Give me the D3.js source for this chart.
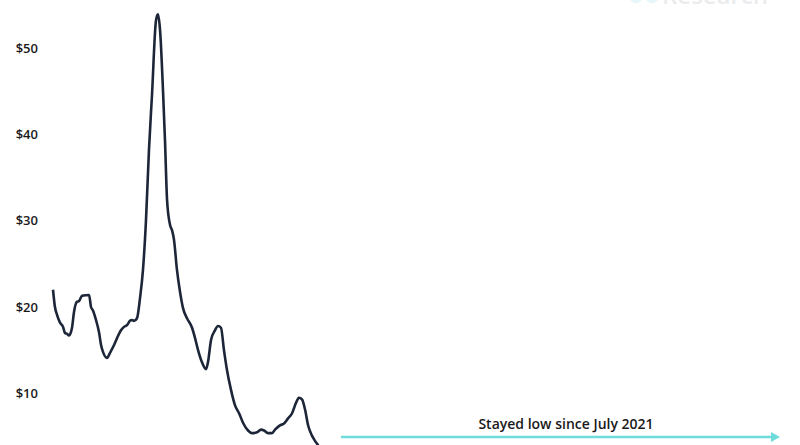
<!DOCTYPE html>
<html>
<head>
<meta charset="utf-8">
<script src="https://cdn.jsdelivr.net/npm/d3@7"></script>
<style>
  body { margin: 0; background: #fff; }
  svg text { font-family: "Open Sans", "Noto Sans", sans-serif; }
</style>
</head>
<body>
<div id="chart"></div>
<script>
//Chart size
var svgWidth = 800;
var svgHeight = 445;

//Time in decimal years, price in dollars
var years = [2019.000, 2019.017, 2019.035, 2019.061, 2019.087, 2019.104, 2019.122, 2019.139, 2019.165, 2019.182,
    2019.208, 2019.226, 2019.252, 2019.313, 2019.330, 2019.347, 2019.373, 2019.399, 2019.417, 2019.434,
    2019.469, 2019.495, 2019.530, 2019.556, 2019.590, 2019.616, 2019.642, 2019.668, 2019.686, 2019.703,
    2019.729, 2019.755, 2019.781, 2019.807, 2019.833, 2019.859, 2019.894, 2019.911, 2019.929, 2019.955,
    2019.972, 2019.990, 2020.016, 2020.033, 2020.050, 2020.076, 2020.102, 2020.128, 2020.163, 2020.207,
    2020.233, 2020.259, 2020.293, 2020.328, 2020.345, 2020.372, 2020.406, 2020.432, 2020.458, 2020.484,
    2020.510, 2020.545, 2020.580, 2020.615, 2020.649, 2020.693, 2020.727, 2020.771, 2020.806, 2020.832,
    2020.866, 2020.901, 2020.927, 2020.970, 2021.005, 2021.040, 2021.075, 2021.109, 2021.135, 2021.161,
    2021.188, 2021.214, 2021.248, 2021.274, 2021.300, 2021.335, 2021.420, 2021.550, 2021.800, 2022.200,
    2022.600, 2023.000, 2023.400, 2023.800, 2024.200, 2024.600, 2025.000, 2025.300];
var prices = [22.0, 20.0, 19.1, 18.2, 17.7, 17.0, 16.9, 16.7, 17.6, 19.4,
    20.6, 20.7, 21.3, 21.4, 20.0, 19.6, 18.5, 17.1, 15.6, 14.8,
    14.1, 14.7, 15.6, 16.4, 17.3, 17.7, 17.9, 18.4, 18.5, 18.4,
    18.7, 21.0, 24.3, 30.0, 38.2, 44.5, 53.2, 53.9, 52.1, 45.0,
    39.3, 32.4, 29.5, 28.9, 27.8, 24.3, 21.8, 19.9, 18.7, 17.6,
    16.4, 15.0, 13.6, 12.8, 13.6, 16.2, 17.3, 17.8, 17.6, 15.0,
    12.7, 10.4, 8.6, 7.7, 6.6, 5.7, 5.4, 5.5, 5.8, 5.7,
    5.4, 5.4, 5.8, 6.3, 6.5, 7.1, 7.7, 8.9, 9.5, 9.3,
    8.1, 6.3, 5.1, 4.5, 4.0, 3.2, 2.6, 2.3, 2.5, 2.2,
    2.4, 2.3, 2.5, 2.2, 2.4, 2.3, 2.4, 2.3];
var yTicks = [10, 20, 30, 40, 50];

var noteText = "Stayed low since July 2021";
var noteStart = 2021.5;
var noteEnd = 2025.31;

var data = years.map((t, i) => ({ t: t, price: prices[i] }));

//Create SVG
var svg = d3.select("#chart")
    .append("svg")
    .attr("width", svgWidth)
    .attr("height", svgHeight);

//Scales
var xScale = d3.scaleLinear()
    .domain([2019, 2025.31])
    .range([53, 780]);

var yScale = d3.scaleLinear()
    .domain([0, 50])
    .range([479.7, 48]);

//Faint logo in top right corner
var logo = svg.append("g").attr("opacity", 0.12);
logo.append("circle").attr("cx", 636).attr("cy", -4).attr("r", 7).attr("fill", "#37c3d6");
logo.append("circle").attr("cx", 652).attr("cy", -4).attr("r", 7).attr("fill", "#37c3d6");
logo.append("text")
    .attr("x", 662)
    .attr("y", 4)
    .attr("font-size", 24)
    .attr("font-weight", 600)
    .attr("fill", "#5a6470")
    .text("Research");

//Y axis labels, no line
var yAxis = svg.append("g")
    .attr("transform", "translate(38,0)")
    .call(d3.axisLeft(yScale).tickValues(yTicks).tickSize(0).tickPadding(0).tickFormat(d => "$" + d));
yAxis.select(".domain").remove();
yAxis.selectAll("text")
    .attr("font-family", "'Open Sans', sans-serif")
    .attr("font-size", 13)
    .attr("font-weight", 600)
    .attr("fill", "#1a1a1a");

//Price line
var line = d3.line()
    .x(d => xScale(d.t))
    .y(d => yScale(d.price))
    .curve(d3.curveMonotoneX);

svg.append("path")
    .datum(data)
    .attr("d", line)
    .attr("fill", "none")
    .attr("stroke", "#1c2638")
    .attr("stroke-width", 2.6)
    .attr("stroke-linejoin", "round");

//Arrow note
var arrowY = 437;
var x1 = xScale(noteStart), x2 = xScale(noteEnd);

svg.append("line")
    .attr("x1", x1)
    .attr("x2", x2 - 6)
    .attr("y1", arrowY)
    .attr("y2", arrowY)
    .attr("stroke", "#6fdcdc")
    .attr("stroke-width", 2.5);

svg.append("path")
    .attr("d", `M${x2 - 9},${arrowY - 5}L${x2},${arrowY}L${x2 - 9},${arrowY + 5}Z`)
    .attr("fill", "#6fdcdc");

svg.append("text")
    .attr("x", 566)
    .attr("y", 429)
    .attr("text-anchor", "middle")
    .attr("font-size", 14)
    .attr("font-weight", 600)
    .attr("fill", "#1a1a1a")
    .text(noteText);
</script>
</body>
</html>
